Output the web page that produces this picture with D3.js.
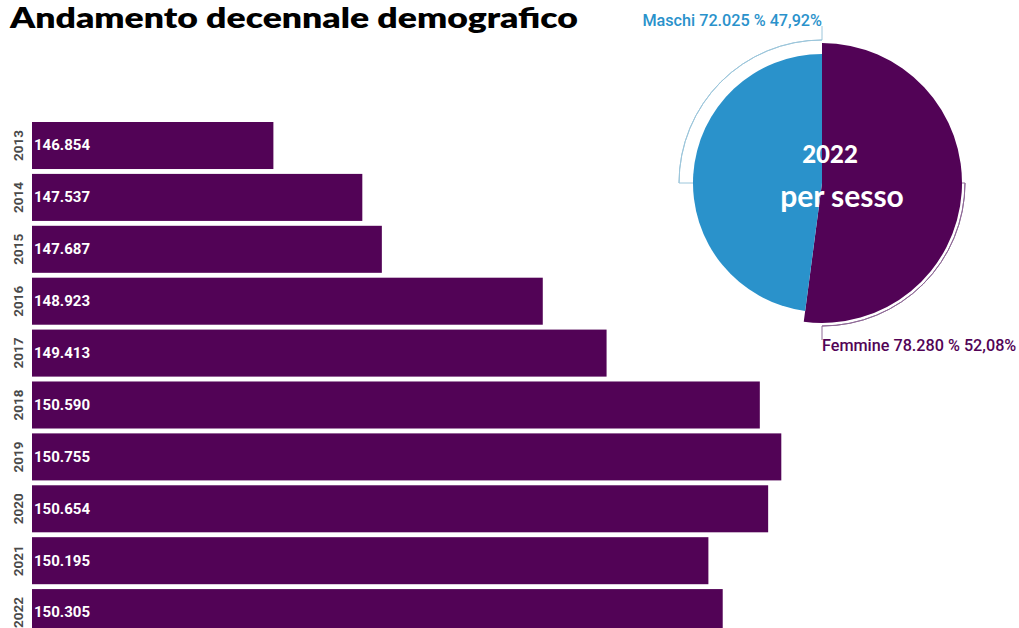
<!DOCTYPE html>
<html><head><meta charset="utf-8">
<script src="https://cdn.jsdelivr.net/npm/d3@7"></script>
<style>html,body{margin:0;padding:0;background:#fff;overflow:hidden}</style>
</head><body>
<svg id="c" width="1019" height="628"></svg>
<script>
const years = ["2013","2014","2015","2016","2017","2018","2019","2020","2021","2022"];
const population = [146854,147537,147687,148923,149413,150590,150755,150654,150195,150305];
const popLabels = ["146.854","147.537","147.687","148.923","149.413","150.590","150.755","150.654","150.195","150.305"];
const sexes = ["Femmine","Maschi"];
const sexValues = [78280,72025];
const sexLabels = ["Femmine 78.280 % 52,08%","Maschi 72.025 % 47,92%"];
const titleText = "Andamento decennale demografico";
const centerLines = ["2022","per sesso"];

const purple = "#520356", blue = "#2a92cb";
const svg = d3.select("#c");

// title
svg.append("text").attr("x",10).attr("y",28)
  .attr("font-family","Lato").attr("font-weight",800).attr("font-size",28)
  .attr("fill","#000").text(titleText)
  .attr("textLength",568).attr("lengthAdjust","spacingAndGlyphs");

// bars
const x = d3.scaleLinear().domain([145000,153000]).range([32, 32+8000*0.1302]);
const y = d3.scaleBand().domain(years).range([122,636.1]).paddingInner(0.094).paddingOuter(0);

const g = svg.append("g");
g.selectAll("rect.bar").data(years).join("rect").attr("class","bar")
  .attr("x",x(145000)).attr("y",d=>y(d))
  .attr("width",(d,i)=>x(population[i])-x(145000)).attr("height",y.bandwidth())
  .attr("fill",purple);
g.selectAll("text.val").data(years).join("text").attr("class","val")
  .attr("x",34).attr("y",d=>y(d)+y.bandwidth()/2-0.5).attr("dy","0.36em")
  .attr("font-family","Roboto").attr("font-weight",700).attr("font-size",15)
  .attr("fill","#fff").text((d,i)=>popLabels[i]);
g.selectAll("text.yr").data(years).join("text").attr("class","yr")
  .attr("transform",d=>`translate(18,${y(d)+y.bandwidth()/2}) rotate(-90)`)
  .attr("text-anchor","middle").attr("dy","0.36em")
  .attr("font-family","Roboto").attr("font-weight",700).attr("font-size",13.5)
  .attr("fill","#4a4a4a").text(d=>d);

// pie
const cx = 822, cy = 183;
const pie = d3.pie().sort(null).value(d=>d)(sexValues);
const radii = [140,129];
const colors = [purple, blue];
const pg = svg.append("g").attr("transform",`translate(${cx},${cy})`);
pg.selectAll("path.slice").data(pie).join("path").attr("class","slice")
  .attr("d",(d,i)=>d3.arc().innerRadius(0).outerRadius(radii[i])(d))
  .attr("fill",(d,i)=>colors[i]);

// outline brackets
const R = 143;
const outline = [
  {a0: Math.PI/2, a1: Math.PI, col:"#8f6a97"},
  {a0: 3*Math.PI/2, a1: 2*Math.PI, col:"#9cc6db"}
];
outline.forEach(o=>{
  pg.append("path").attr("d",d3.arc().innerRadius(R).outerRadius(R).startAngle(o.a0).endAngle(o.a1)())
    .attr("fill","none").attr("stroke",o.col).attr("stroke-width",1);
});
pg.append("line").attr("x1",radii[0]).attr("y1",0).attr("x2",R).attr("y2",0).attr("stroke","#8f6a97");
pg.append("line").attr("x1",-R).attr("y1",0).attr("x2",-radii[1]).attr("y2",0).attr("stroke","#9cc6db");
pg.append("line").attr("x1",0).attr("y1",R).attr("x2",0).attr("y2",157).attr("stroke","#8f6a97");
pg.append("line").attr("x1",0).attr("y1",-R).attr("x2",0).attr("y2",-157).attr("stroke","#9cc6db");

svg.append("text").attr("x",cx).attr("y",26).attr("text-anchor","end")
  .attr("font-family","Roboto").attr("font-weight",500).attr("font-size",16.2)
  .attr("fill",blue).text(sexLabels[1]);
svg.append("text").attr("x",cx).attr("y",351).attr("text-anchor","start")
  .attr("font-family","Roboto").attr("font-weight",500).attr("font-size",16.2)
  .attr("fill",purple).text(sexLabels[0]);

svg.append("text").attr("x",830).attr("y",163).attr("text-anchor","middle")
  .attr("font-family","Lato").attr("font-weight",900).attr("font-size",24)
  .attr("fill","#fff").text(centerLines[0]);
svg.append("text").attr("x",842).attr("y",207).attr("text-anchor","middle")
  .attr("font-family","Lato").attr("font-weight",700).attr("font-size",30)
  .attr("fill","#fff").text(centerLines[1]);
</script>
</body></html>
